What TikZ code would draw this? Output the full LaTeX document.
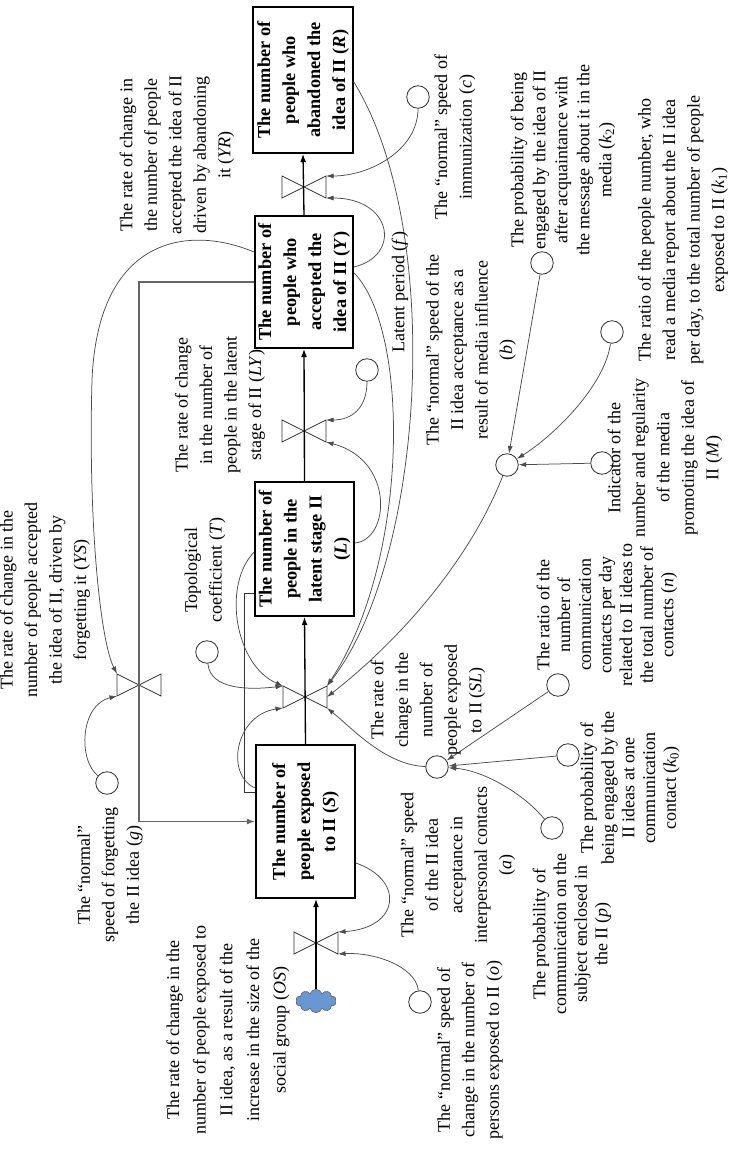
\documentclass[tikz,border=0pt]{standalone}
\usepackage{fontspec}
\setmainfont{Liberation Serif}
\usetikzlibrary{arrows.meta}
\usetikzlibrary{shapes.symbols}
\definecolor{cloudblue}{RGB}{104,152,212}

\begin{document}
\begin{tikzpicture}[x=0.6pt,y=-0.6pt,
		stock/.style={rectangle,draw,line width=1pt,rotate=90,align=center,inner sep=2pt,font=\bfseries\fontsize{11}{15}\selectfont},
		aux/.style={circle,draw=black!80,line width=0.5pt,minimum size=13.5pt,inner sep=0pt},
		lbl/.style={rotate=90,align=center,inner sep=0pt,font=\fontsize{10.8}{14.7}\selectfont},
		tightlbl/.style={lbl,font=\fontsize{10.8}{12.4}\selectfont},
		flow/.style={draw=black,line width=0.8pt,-{Latex[length=5pt,width=3.6pt]}},
		link/.style={draw=black!70,line width=0.45pt,-{Latex[length=4.5pt,width=3pt]}},
		srcloud/.style={cloud,cloud puffs=10,aspect=1.7,draw=black!60,fill=cloudblue,minimum width=24pt,minimum height=14pt,inner sep=0pt},
		valve/.pic={
			\draw[black!80,line width=0.5pt] (-22,-11) -- (22,11) -- (22,-11) -- (-22,11) -- cycle;
			\coordinate (-c) at (0,0);
			\coordinate (-r1) at (22,-11);
			\coordinate (-rm) at (22,0);
			\coordinate (-r2) at (22,11);
			\coordinate (-l1) at (-22,-11);
			\coordinate (-l2) at (-22,11);
		}
		]
		\useasboundingbox (0,0) rectangle (735,1149);

		% stocks
		\node (sR) [stock,minimum width=87.6pt,minimum height=60pt] at (303,80) {The number of\\people who\\abandoned the\\idea of II (\textit{R})};
		\node (sY) [stock,minimum width=79.2pt,minimum height=58.8pt] at (304,282) {The number of\\people who\\accepted the\\idea of II (\textit{Y})};
		\node (sL) [stock,minimum width=80.4pt,minimum height=59.4pt] at (304.5,549) {The number of\\people in the\\latent stage II\\(\textit{L})};
		\node (sS) [stock,minimum width=91.8pt,minimum height=59.4pt] at (305.5,821.5) {The number of\\people exposed\\to II (\textit{S})};
		\node (src) [srcloud] at (316,1001) {};

		% valves
		\pic (vYR) at (304,187) {valve};
		\pic (vLY) at (304,431) {valve};
		\pic (vSL) at (305,697) {valve};
		\pic (vOS) at (316,943) {valve};
		\pic (vYS) at (139,685) {valve};

		% auxiliaries
		\node (cc) [aux] at (418,97) {};
		\node (cf) [aux] at (367,370) {};
		\node (cT) [aux] at (207,652) {};
		\node (cg) [aux] at (107,783) {};
		\node (co) [aux] at (420,1002) {};
		\node (ca) [aux] at (437,767) {};
		\node (cb) [aux] at (507,465) {};
		\node (ck2) [aux] at (542,263) {};
		\node (ck1) [aux] at (612,332) {};
		\node (cM) [aux] at (602,463) {};
		\node (cn) [aux] at (558,685) {};
		\node (ck0) [aux] at (568,755) {};
		\node (cp) [aux] at (552,828) {};

		% flows
		\draw[flow] (src.north) -- (sS.west -| src.north);
		\draw[flow] (sS.east) -- (sL.west);
		\draw[flow] (sL.east) -- (sY.west);
		\draw[flow] (sY.east) -- (sR.west);
		\draw[flow,draw=black!60] (sY.north) -| (vYS-c) |- (sS.north);
		\draw[draw=black!80,line width=0.5pt] (sL.north |- 0,593) -- ++(-10,0) |- (sS.north |- 0,792);

		% links
		\draw[link] (cc) .. controls (418,150) and (370,176) .. (vYR-r1);
		\draw[link] (sY.south |- 0,267) .. controls (402,255) and (392,198) .. (vYR-r2);
		\draw[link] (cf) .. controls (367,408) and (352,420) .. (vLY-r1);
		\draw[link] (sL.south |- 0,543) .. controls (390,540) and (395,460) .. (vLY-r2);
		\draw[link] (sR.south |- 0,82) .. controls (445,230) and (425,560) .. (vSL-r1);
		\draw[link] (sY.south |- 0,273) .. controls (410,330) and (410,560) .. (vSL-r1);
		\draw[link] (cb) .. controls (470,560) and (400,640) .. (vSL-rm);
		\draw[link] (ca) .. controls (385,765) and (352,728) .. (vSL-r2);
		\draw[link] (cT) .. controls (210,690) and (250,690) .. (vSL-l1);
		\draw[link] (sL.north |- 0,552) .. controls (222,585) and (235,665) .. (vSL-l1);
		\draw[link] (sS.north |- 0,788) .. controls (225,775) and (235,715) .. (vSL-l2);
		\draw[link] (cg) .. controls (78,760) and (80,705) .. (vYS-l2);
		\draw[link] (sY.north |- 0,252) .. controls (190,225) and (98,235) .. (92,380) .. controls (88,520) and (100,640) .. (vYS-l1);
		\draw[link] (ck2) -- (cb);
		\draw[link] (ck1) .. controls (605,385) and (555,435) .. (cb);
		\draw[link] (cM) -- (cb);
		\draw[link] (cn) -- (ca);
		\draw[link] (ck0) -- (ca);
		\draw[link] (cp) .. controls (520,790) and (480,770) .. (ca);
		\draw[link] (co) .. controls (415,965) and (372,952) .. (vOS-r2);
		\draw[link] (sS.south |- 0,863) .. controls (405,880) and (400,928) .. (vOS-r1);

		% labels
		\node (lYR) [lbl] at (177,155) {The rate of change in\\the number of people\\accepted the idea of II\\driven by abandoning\\it (\textit{YR})};
		\node (lYS) [lbl] at (45,600) {The rate of change in the\\number of people accepted\\the idea of II, driven by\\forgetting it (\textit{YS})};
		\node (lg) [lbl] at (110,875) {The ``normal''\\speed of forgetting\\the II idea (\textit{g})};
		\node (lOS) [lbl,font=\fontsize{10.8}{16}\selectfont] at (228,1030) {The rate of change in the\\number of people exposed to\\II idea, as a result of the\\increase in the size of the\\social group (\textit{OS})};
		\node (lo) [lbl] at (470,1050) {The ``normal'' speed of\\change in the number of\\persons exposed to II (\textit{o})};
		\node (la) [lbl] at (458,865) {The ``normal'' speed\\of the II idea\\acceptance in\\interpersonal contacts\\(\textit{a})};
		\node (lp) [tightlbl] at (572,934) {The probability of\\communication on the\\subject enclosed in\\the II (\textit{p})};
		\node (lk0) [tightlbl] at (630,788) {The probability of\\being engaged by the\\II ideas at one\\communication\\contact (\textit{k}\textsubscript{0})};
		\node (ln) [tightlbl] at (607,615) {The ratio of the\\number of\\communication\\contacts per day\\related to II ideas to\\the total number of\\contacts (\textit{n})};
		\node (lM) [lbl] at (665,458) {Indicator of the\\number and regularity\\of the media\\promoting the idea of\\II (\textit{M})};
		\node (lk1) [lbl] at (683,230) {The ratio of the people number, who\\read a media report about the II idea\\per day, to the total number of people\\exposed to II (\textit{k}\textsubscript{1})};
		\node (lk2) [lbl,font=\fontsize{10.8}{13.2}\selectfont] at (563,160) {The probability of being\\engaged by the idea of II\\after acquaintance with\\the message about it in the\\media (\textit{k}\textsubscript{2})};
		\node (lc) [lbl] at (455,137) {The ``normal'' speed of\\immunization (\textit{c})};
		\node (lf) [lbl] at (400,292) {Latent period (\textit{f})};
		\node (lb) [lbl] at (471,350) {The ``normal'' speed of the\\II idea acceptance as a\\result of media influence\\(\textit{b})};
		\node (lLY) [lbl] at (220,405) {The rate of change\\in the number of\\people in the latent\\stage of II (\textit{LY})};
		\node (lT) [lbl] at (205,570) {Topological\\coefficient (\textit{T})};
		\node (lSL) [lbl] at (428,700) {The rate of\\change in the\\number of\\people exposed\\to II (\textit{SL})};
\end{tikzpicture}
\end{document}
